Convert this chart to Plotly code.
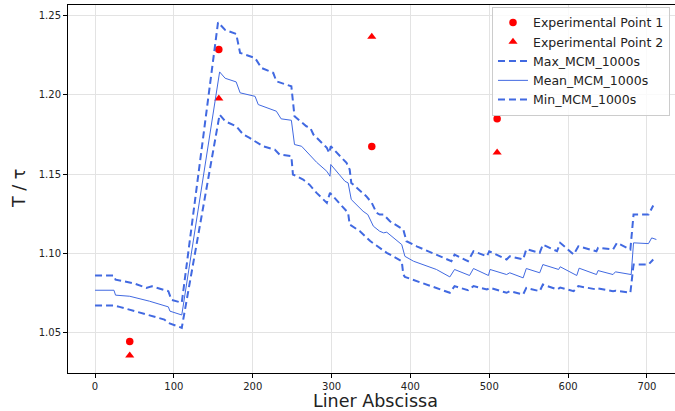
import plotly.graph_objects as go

# Experimental data
exp_x = [44, 157, 351, 510]
exp1_y = [1.0445, 1.2286, 1.1674, 1.1850]
exp2_y = [1.0356, 1.1977, 1.2367, 1.1636]

# Mean curve
mean_x = [0, 24, 26, 44, 69, 93, 95, 110, 158, 165, 179, 184, 203, 207, 230, 236, 249, 253,
          262, 272, 281, 294, 298, 299, 317, 321, 325, 340, 346, 353, 361, 366, 370, 389, 393,
          404, 416, 433, 450, 456, 475, 480, 499, 501, 522, 526, 543, 547, 564, 568, 588, 590,
          611, 614, 636, 638, 657, 660, 680, 683, 702, 706, 712]
mean_y = [1.0768, 1.0768, 1.0737, 1.0730, 1.0699, 1.0663, 1.0636, 1.0612, 1.2145, 1.2105,
          1.2082, 1.2013, 1.1991, 1.1939, 1.1897, 1.1849, 1.1840, 1.1687, 1.1676, 1.1624,
          1.1575, 1.1518, 1.1487, 1.1561, 1.1455, 1.1445, 1.1340, 1.1266, 1.1245, 1.1172,
          1.1140, 1.1130, 1.1134, 1.1056, 1.0982, 1.0951, 1.0930, 1.0899, 1.0852, 1.0899,
          1.0861, 1.0905, 1.0861, 1.0899, 1.0867, 1.0878, 1.0846, 1.0905, 1.0878, 1.0930,
          1.0899, 1.0916, 1.0861, 1.0907, 1.0867, 1.0892, 1.0867, 1.0884, 1.0867, 1.1067,
          1.1062, 1.1098, 1.1088]

# Max curve
max_x = [0, 24, 26, 50, 65, 72, 93, 97, 110, 156, 165, 179, 184, 203, 211, 226, 230, 249,
         253, 268, 273, 277, 294, 297, 299, 319, 323, 325, 344, 351, 357, 361, 366, 374, 391,
         395, 408, 433, 452, 456, 473, 480, 497, 500, 522, 526, 543, 547, 564, 568, 586, 590,
         607, 613, 636, 638, 657, 662, 679, 683, 702, 708]
max_y = [1.0861, 1.0861, 1.0835, 1.0810, 1.0783, 1.0793, 1.0762, 1.0707, 1.0689, 1.2458,
         1.2410, 1.2385, 1.2265, 1.2233, 1.2170, 1.2139, 1.2086, 1.2054, 1.1865, 1.1802,
         1.1792, 1.1750, 1.1666, 1.1634, 1.1676, 1.1571, 1.1529, 1.1445, 1.1361, 1.1319,
         1.1256, 1.1245, 1.1245, 1.1203, 1.1151, 1.1077, 1.1045, 1.0993, 1.0951, 1.0993,
         1.0951, 1.1014, 1.0982, 1.1014, 1.0962, 1.0982, 1.0962, 1.1027, 1.1004, 1.1056,
         1.1014, 1.1067, 1.0993, 1.1045, 1.1014, 1.1035, 1.1025, 1.1067, 1.1025, 1.1245,
         1.1245, 1.1302]

# Min curve
min_x = [0, 24, 31, 65, 88, 93, 110, 158, 165, 179, 188, 196, 213, 228, 234, 249, 251, 264,
         272, 281, 294, 298, 317, 321, 323, 336, 349, 366, 370, 389, 391, 393, 412, 433, 450,
         456, 473, 480, 497, 501, 522, 526, 543, 547, 564, 568, 586, 590, 607, 613, 636, 638,
         657, 660, 679, 683, 702, 708]
min_y = [1.0672, 1.0672, 1.0663, 1.0615, 1.0583, 1.0562, 1.0531, 1.1876, 1.1834, 1.1802,
         1.1750, 1.1729, 1.1676, 1.1655, 1.1624, 1.1613, 1.1498, 1.1466, 1.1434, 1.1382,
         1.1319, 1.1382, 1.1277, 1.1256, 1.1182, 1.1140, 1.1078, 1.1014, 1.1004, 1.0951,
         1.0867, 1.0852, 1.0818, 1.0783, 1.0752, 1.0794, 1.0768, 1.0794, 1.0773, 1.0783,
         1.0752, 1.0762, 1.0741, 1.0783, 1.0762, 1.0804, 1.0773, 1.0785, 1.0762, 1.0794,
         1.0773, 1.0780, 1.0762, 1.0765, 1.0752, 1.0930, 1.0930, 1.0962]

x_ticks = [0, 100, 200, 300, 400, 500, 600, 700]
y_ticks = [1.05, 1.10, 1.15, 1.20, 1.25]

BLUE = "#4169E1"
FONT = "DejaVu Sans"
TXT = "#222222"

fig = go.Figure()
fig.add_trace(go.Scatter(x=exp_x, y=exp1_y, mode="markers", name="Experimental Point 1",
                         marker=dict(color="red", symbol="circle", size=7.5)))
fig.add_trace(go.Scatter(x=exp_x, y=exp2_y, mode="markers", name="Experimental Point 2",
                         marker=dict(color="red", symbol="triangle-up", size=8)))
fig.add_trace(go.Scatter(x=max_x, y=max_y, mode="lines", name="Max_MCM_1000s",
                         line=dict(color=BLUE, width=2, dash="7px,4px")))
fig.add_trace(go.Scatter(x=mean_x, y=mean_y, mode="lines", name="Mean_MCM_1000s",
                         line=dict(color=BLUE, width=1)))
fig.add_trace(go.Scatter(x=min_x, y=min_y, mode="lines", name="Min_MCM_1000s",
                         line=dict(color=BLUE, width=2, dash="7px,4px")))

fig.update_layout(
    width=675, height=411,
    margin=dict(l=68, r=0, t=5, b=38),
    paper_bgcolor="white", plot_bgcolor="white",
    font=dict(family=FONT, size=10, color=TXT),
    showlegend=True,
    legend=dict(x=0.6985, y=0.9946, xanchor="left", yanchor="top",
                bgcolor="rgba(255,255,255,0.8)", bordercolor="#cccccc", borderwidth=1,
                font=dict(family=FONT, size=12.5, color=TXT),
                tracegroupgap=0, itemwidth=30),
    xaxis=dict(range=[-34.3, 735.6], tickvals=x_ticks, ticktext=[str(v) for v in x_ticks],
               showgrid=True, gridcolor="#e3e3e3", gridwidth=1, zeroline=False,
               showline=True, linecolor="black", linewidth=1, mirror=True,
               ticks="outside", ticklen=4, tickcolor="black",
               tickfont=dict(family=FONT, size=10, color=TXT)),
    yaxis=dict(range=[1.0246, 1.2567], tickvals=y_ticks, ticktext=[f"{v:.2f}" for v in y_ticks],
               showgrid=True, gridcolor="#e3e3e3", gridwidth=1, zeroline=False,
               showline=True, linecolor="black", linewidth=1, mirror=False,
               ticks="outside", ticklen=4, tickcolor="black",
               tickfont=dict(family=FONT, size=10, color=TXT)),
    annotations=[
        dict(text="Liner Abscissa", xref="paper", yref="paper", x=0.506, y=-0.076,
             xanchor="center", yanchor="middle", showarrow=False,
             font=dict(family=FONT, size=17.5, color=TXT)),
        dict(text="T / τ", xref="paper", yref="paper", x=-0.0807, y=0.5,
             xanchor="center", yanchor="middle", showarrow=False, textangle=-90,
             font=dict(family=FONT, size=17.5, color=TXT)),
    ],
)

fig.write_html("out.html")
